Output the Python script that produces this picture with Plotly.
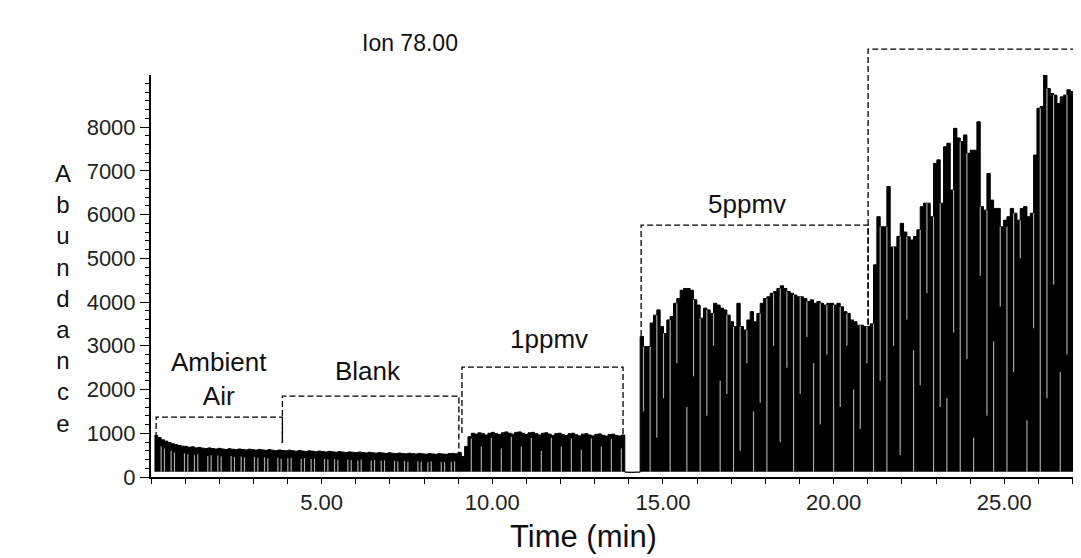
import plotly.graph_objects as go

# ---------------- data ----------------
SCAN_STEP = 0.0977      # minutes between plotted scan columns
BASELINE = 120          # detector floor (abundance)
Y_MAX = 9190
X_MAX = 27.13

ambient_blank_start = 0.15
ambient_blank_peaks = [
    950, 900, 850, 820, 790, 760, 740, 720, 705,
    700, 680, 690, 665, 675, 660, 650, 665, 650, 640,
    655, 640, 630, 645, 635, 625, 640, 630, 620, 635,
    625, 615, 630, 620, 610, 625, 612, 600, 618, 605,
    598, 612, 600, 590, 605, 592, 585, 598, 588, 578,
    592, 580, 572, 586, 575, 566, 580, 570, 560, 574,
    565, 556, 570, 560, 550, 564, 554, 545, 558, 548,
    540, 553, 543, 535, 548, 538, 530, 543, 534, 526,
    540, 530, 522, 536, 527, 520, 534, 526, 520, 535,
    540, 530, 560,
]
# gray gaps between scan columns: (column index, low, high)
ambient_blank_gaps = [
    (1, 120, 700), (2, 120, 650), (4, 120, 600), (5, 120, 560), (8, 120, 540), (9, 120, 520),
    (11, 120, 500), (12, 120, 520), (15, 120, 480), (16, 120, 500), (18, 120, 490), (19, 120, 470),
    (22, 120, 480), (23, 120, 460), (25, 120, 470), (26, 120, 450), (29, 120, 460), (30, 120, 440),
    (32, 120, 450), (33, 120, 430), (36, 120, 440), (37, 120, 420), (39, 120, 430), (40, 120, 440),
    (43, 120, 420), (44, 120, 430), (46, 120, 410), (47, 120, 420), (50, 120, 410), (51, 120, 400),
    (53, 120, 410), (54, 120, 390), (57, 120, 400), (58, 120, 390), (60, 120, 380), (61, 120, 400),
    (64, 120, 380), (65, 120, 390), (67, 120, 370), (68, 120, 380), (71, 120, 370), (72, 120, 360),
    (74, 120, 370), (75, 120, 350), (78, 120, 360), (79, 120, 350), (81, 120, 340), (82, 120, 360),
    (85, 120, 350), (86, 120, 340), (88, 120, 350), (89, 120, 360),
]

ppmv1_start = 9.14
ppmv1_peaks = [
    470, 700, 920, 1000, 980, 1010, 990, 960, 1000, 1020,
    990, 970, 1010, 1030, 1000, 980, 1020, 1030, 1000, 970,
    1010, 1020, 990, 960, 1000, 1010, 980, 950, 990, 1000,
    970, 950, 990, 1000, 965, 940, 980, 990, 960, 940,
    975, 985, 955, 935, 970, 980, 950, 940, 960,
]
ppmv1_gaps = [
    (2, 120, 880), (5, 120, 700), (8, 120, 900), (11, 120, 650), (14, 120, 920), (17, 120, 700),
    (20, 120, 900), (23, 120, 600), (26, 120, 900), (29, 120, 700), (32, 120, 880), (35, 120, 620),
    (38, 120, 880), (41, 120, 700), (44, 120, 870), (47, 120, 650),
]

purge_start = 13.93
purge_peaks = [110, 105, 105, 110]
purge_gaps = []

ppmv5_start = 14.38
ppmv5_peaks = [
    3210, 2980, 2980, 3520, 3700, 3820, 3440, 3280, 3590, 3670,
    3970, 4080, 4270, 4310, 4310, 4270, 4050, 3930, 3630, 3860,
    3820, 3740, 3970, 3930, 3860, 3820, 3700, 3550, 3440, 3970,
    3440, 3360, 3590, 3780, 3550, 3740, 3970, 4080, 4120, 4200,
    4240, 4310, 4370, 4310, 4240, 4200, 4160, 4120, 4120, 4080,
    4010, 4050, 3970, 4010, 3970, 3930, 3970, 3970, 3930, 3970,
    3890, 3780, 3740, 3590, 3550, 3470, 3470, 3440, 3440,
]
ppmv5_gaps = [
    (0, 1500, 2980), (2, 120, 2980), (4, 900, 3700), (6, 1800, 3280), (8, 120, 3590),
    (10, 2600, 3970), (13, 120, 1600), (15, 2300, 4050), (17, 120, 3630), (19, 1400, 3820),
    (21, 3000, 3740), (23, 120, 2200), (25, 1900, 3700), (27, 120, 3440), (29, 600, 3440),
    (31, 2600, 3360), (33, 120, 1500), (35, 1700, 3740), (37, 120, 4080), (39, 3000, 4200),
    (41, 800, 4310), (43, 2500, 4240), (45, 120, 4160), (47, 1900, 4120), (49, 3200, 4010),
    (51, 120, 2600), (53, 1200, 3970), (55, 2800, 3930), (57, 120, 3930), (59, 1600, 3890),
    (61, 3000, 3740), (63, 120, 2000), (65, 1100, 3470), (67, 2600, 3440),
]

ppmv10_start = 21.12
ppmv10_peaks = [
    3500, 4850, 5950, 5720, 5720, 6640, 5260, 5260, 5500, 5800,
    5600, 5490, 5420, 5500, 5650, 6180, 6260, 6260, 5950, 7170,
    7250, 6260, 7550, 7630, 6560, 7970, 7750, 7670, 7820, 7400,
    7470, 7470, 8120, 6180, 6100, 6940, 6330, 6140, 6140, 5720,
    5870, 5950, 6140, 6030, 5870, 6140, 6180, 5950, 6030, 7360,
    8430, 8470, 9190, 8880, 8770, 8730, 8540, 8690, 8730, 8850,
    8810, 8620,
]
ppmv10_gaps = [
    (0, 120, 3500), (2, 2200, 5720), (4, 120, 5720), (6, 3000, 5260), (8, 500, 5500),
    (10, 3600, 5490), (12, 120, 2900), (14, 2100, 5650), (16, 4200, 6260), (18, 120, 5950),
    (20, 1600, 6260), (22, 120, 1800), (24, 3300, 6560), (26, 120, 7670), (28, 2700, 7400),
    (30, 120, 900), (32, 4600, 6180), (34, 1400, 6100), (36, 120, 3100), (38, 3900, 6140),
    (40, 120, 5720), (42, 2400, 6030), (44, 5000, 5870), (46, 120, 1300), (48, 3400, 6030),
    (50, 120, 8430), (52, 1800, 8880), (54, 4400, 8730), (56, 120, 2400), (58, 2800, 8730),
    (60, 120, 8620),
]

# bracket boxes: label, x0, x1, top, left-bottom, right-bottom
box_labels = ["Ambient<br>Air", "Blank", "1ppmv", "5ppmv", "10ppmv"]
box_x0 = [0.15, 3.85, 9.11, 14.36, 21.01]
box_x1 = [3.85, 9.02, 13.83, 21.01, 27.06]
box_top = [1371, 1851, 2514, 5760, 9783]
box_left_bottom = [890, 777, 1006, 3017, 3500]
box_right_bottom = [777, 549, 960, 3429, 5500]
label_x = [1.99, 6.37, 11.66, 17.46, 23.82]
label_y = [2240, 2423, 3150, 6240, 10240]

x_tick_vals = [5, 10, 15, 20, 25]
x_tick_text = ["5.00", "10.00", "15.00", "20.00", "25.00"]
y_tick_vals = [0, 1000, 2000, 3000, 4000, 5000, 6000, 7000, 8000]

# ---------------- build columns ----------------
segments = [
    (ambient_blank_start, ambient_blank_peaks, ambient_blank_gaps),
    (ppmv1_start, ppmv1_peaks, ppmv1_gaps),
    (purge_start, purge_peaks, purge_gaps),
    (ppmv5_start, ppmv5_peaks, ppmv5_gaps),
    (ppmv10_start, ppmv10_peaks, ppmv10_gaps),
]
half = SCAN_STEP / 2
times, peaks = [], []
sep_x, sep_y = [], []
for start, vals, gaps in segments:
    for i, v in enumerate(vals):
        times.append(start + i * SCAN_STEP)
        peaks.append(v)
    for idx, lo, hi in gaps:
        b = start + idx * SCAN_STEP + half
        nxt = vals[idx + 1] if idx + 1 < len(vals) else vals[idx]
        top = min(hi, vals[idx], nxt)
        sep_x += [b, b, None]
        sep_y += [lo, top, None]

step_x = [t - half for t in times] + [times[-1] + half]
step_y = peaks + [peaks[-1]]

fig = go.Figure()
fig.add_trace(go.Scatter(x=step_x, y=[BASELINE] * len(step_x), mode="lines",
                         line=dict(width=0, shape="hv"), hoverinfo="skip",
                         showlegend=False))
fig.add_trace(go.Scatter(x=step_x, y=step_y, mode="lines",
                         line=dict(color="black", width=1, shape="hv"),
                         fill="tonexty", fillcolor="black", showlegend=False))
fig.add_trace(go.Scatter(x=sep_x, y=sep_y, mode="lines",
                         line=dict(color="#a8a8a8", width=1.2), showlegend=False,
                         hoverinfo="skip"))

# bracket boxes (paper y so the tall one can rise above the axis)
shapes = []
for x0, x1, top, lb, rb in zip(box_x0, box_x1, box_top, box_left_bottom, box_right_bottom):
    path = "M {x0},{lb} L {x0},{t} L {x1},{t} L {x1},{rb}".format(
        x0=x0, x1=x1, lb=lb / Y_MAX, t=top / Y_MAX, rb=rb / Y_MAX)
    shapes.append(dict(type="path", xref="x", yref="paper", path=path, layer="above",
                       line=dict(color="black", width=1.3, dash="6px,3px")))

FONT = "Liberation Sans, Arial"
annotations = []
for txt, lx, ly in zip(box_labels, label_x, label_y):
    annotations.append(dict(x=lx, y=ly, xref="x", yref="y", text=txt, showarrow=False,
                            font=dict(family=FONT, size=26, color="#111"),
                            xanchor="center", yanchor="middle"))

annotations.append(dict(x=0.2797, y=1.0796, xref="paper", yref="paper", text="Ion 78.00",
                        showarrow=False, font=dict(family=FONT, size=23, color="#111"),
                        xanchor="center", yanchor="middle"))
annotations.append(dict(x=-0.095, y=0.445, xref="paper", yref="paper",
                        text="<br>".join(list("Abundance")), showarrow=False,
                        font=dict(family=FONT, size=24, color="#111"),
                        xanchor="center", yanchor="middle", align="center"))
annotations.append(dict(x=0.4676, y=-0.1468, xref="paper", yref="paper", text="Time (min)",
                        showarrow=False, font=dict(family=FONT, size=31, color="#111"),
                        xanchor="center", yanchor="middle"))

fig.update_layout(
    width=1081, height=558,
    margin=dict(l=143, r=12, t=67, b=89),
    paper_bgcolor="white", plot_bgcolor="white",
    shapes=shapes, annotations=annotations,
    xaxis=dict(range=[0, X_MAX], showgrid=False, zeroline=False,
               showline=True, linecolor="black", linewidth=2,
               ticks="outside", ticklen=5, tickwidth=1, tickcolor="black",
               tickmode="array", tickvals=x_tick_vals, ticktext=x_tick_text,
               tickfont=dict(family=FONT, size=22, color="#222"),
               minor=dict(tickmode="linear", tick0=0, dtick=1, ticks="outside",
                          ticklen=5, tickcolor="black", tickwidth=1)),
    yaxis=dict(range=[0, Y_MAX], showgrid=False, zeroline=False,
               showline=True, linecolor="black", linewidth=2,
               ticks="outside", ticklen=9, tickwidth=1, tickcolor="black",
               tickmode="array", tickvals=y_tick_vals,
               tickfont=dict(family=FONT, size=22, color="#222"),
               minor=dict(tickmode="linear", tick0=0, dtick=200, ticks="outside",
                          ticklen=4, tickcolor="black", tickwidth=1)),
)

fig.write_html("out.html")
